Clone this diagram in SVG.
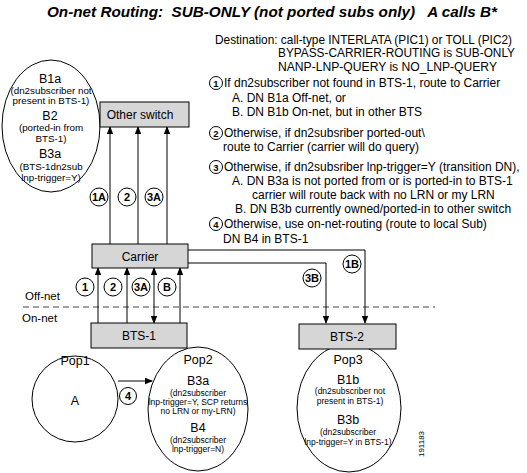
<svg xmlns="http://www.w3.org/2000/svg" width="527" height="473" viewBox="0 0 527 473">
<defs>
<marker id="ah" markerWidth="8" markerHeight="8" refX="7" refY="4" orient="auto" markerUnits="userSpaceOnUse">
<path d="M0,0.8 L8,4 L0,7.2 Z" fill="#000"/>
</marker>
<marker id="as" markerWidth="8" markerHeight="8" refX="1" refY="4" orient="auto" markerUnits="userSpaceOnUse">
<path d="M8,0.8 L0,4 L8,7.2 Z" fill="#000"/>
</marker>
</defs>
<style>
text{font-family:"Liberation Sans",Arial,sans-serif;fill:#000}
.t{font-size:12px}
.box{fill:#d6d6d6;stroke:#000;stroke-width:1}
.nd{fill:#fff;stroke:#000;stroke-width:1}
.bl{font-size:12px;text-anchor:middle}
.hd{font-size:12.5px;text-anchor:middle}
.sm{font-size:9.8px;text-anchor:middle}
.xs{font-size:8.5px;text-anchor:middle}
.ln{fill:none;stroke:#000;stroke-width:1}
.cl{fill:#fff;stroke:#000;stroke-width:1}
.clt{font-size:11px;font-weight:bold;text-anchor:middle}
.ct{font-size:9.5px;font-weight:bold;text-anchor:middle}
</style>
<rect width="527" height="473" fill="#fff"/>
<text x="47" y="17" xml:space="preserve" textLength="450" lengthAdjust="spacingAndGlyphs" style="font-size:14.5px;font-weight:bold;font-style:italic;white-space:pre">On-net Routing:  SUB-ONLY (not ported subs only)   A calls B*</text>

<g id="legend">
<text class="t" x="215" y="44" textLength="297" lengthAdjust="spacingAndGlyphs">Destination: call-type INTERLATA (PIC1) or TOLL (PIC2)</text>
<text class="t" x="278" y="57" textLength="237" lengthAdjust="spacingAndGlyphs">BYPASS-CARRIER-ROUTING is SUB-ONLY</text>
<text class="t" x="278" y="71" textLength="219" lengthAdjust="spacingAndGlyphs">NANP-LNP-QUERY is NO_LNP-QUERY</text>
<circle class="cl" cx="216" cy="83" r="6.5"/><text class="ct" x="216" y="86.5">1</text>
<text class="t" x="224" y="87">If dn2subscriber not found in BTS-1, route to Carrier</text>
<text class="t" x="232" y="102">A. DN B1a Off-net, or</text>
<text class="t" x="232" y="116">B. DN B1b On-net, but in other BTS</text>
<circle class="cl" cx="216" cy="133" r="6.5"/><text class="ct" x="216" y="136.5">2</text>
<text class="t" x="224" y="137">Otherwise, if dn2subsriber ported-out\</text>
<text class="t" x="223" y="151">route to Carrier (carrier will do query)</text>
<circle class="cl" cx="216" cy="167" r="6.5"/><text class="ct" x="216" y="170.5">3</text>
<text class="t" x="224" y="171">Otherwise, if dn2subsriber lnp-trigger=Y (transition DN),</text>
<text class="t" x="232" y="185">A. DN B3a is not ported from or is ported-in to BTS-1</text>
<text class="t" x="252" y="199">carrier will route back with no LRN or my LRN</text>
<text class="t" x="235" y="213">B. DN B3b currently owned/ported-in to other switch</text>
<circle class="cl" cx="216" cy="224" r="6.5"/><text class="ct" x="216" y="227.5">4</text>
<text class="t" x="224" y="228">Otherwise, use on-net-routing (route to local Sub)</text>
<text class="t" x="223" y="243">DN B4 in BTS-1</text>
</g>

<g id="netline">
<line x1="23" y1="307" x2="435" y2="307" stroke="#444" stroke-width="1" stroke-dasharray="6,4"/>
<text x="25" y="300" style="font-size:11.5px">Off-net</text>
<text x="22" y="322" style="font-size:11.5px">On-net</text>
</g>

<g id="connectors">
<line class="ln" x1="110" y1="244" x2="110" y2="127" marker-end="url(#ah)"/>
<line class="ln" x1="138" y1="244" x2="138" y2="127" marker-end="url(#ah)"/>
<line class="ln" x1="167" y1="244" x2="167" y2="127" marker-end="url(#ah)"/>
<line class="ln" x1="98" y1="323" x2="98" y2="268" marker-end="url(#ah)"/>
<line class="ln" x1="127" y1="323" x2="127" y2="268" marker-end="url(#ah)"/>
<line class="ln" x1="154" y1="323" x2="154" y2="268" marker-start="url(#as)" marker-end="url(#ah)"/>
<line class="ln" x1="180" y1="323" x2="180" y2="268" marker-end="url(#ah)"/>
<path class="ln" d="M188,250 H365 V323" marker-end="url(#ah)"/>
<path class="ln" d="M188,263 H326 V323" marker-end="url(#ah)"/>
<line class="ln" x1="118" y1="381" x2="152" y2="381" marker-end="url(#ah)"/>
<circle class="cl" cx="99" cy="197" r="9"/><text class="clt" x="99" y="201">1A</text>
<circle class="cl" cx="127" cy="197" r="9"/><text class="clt" x="127" y="201">2</text>
<circle class="cl" cx="154" cy="197" r="9"/><text class="clt" x="154" y="201">3A</text>
<circle class="cl" cx="85" cy="287" r="9"/><text class="clt" x="85" y="291">1</text>
<circle class="cl" cx="113" cy="287" r="9"/><text class="clt" x="113" y="291">2</text>
<circle class="cl" cx="141" cy="287" r="9"/><text class="clt" x="141" y="291">3A</text>
<circle class="cl" cx="167" cy="287" r="9"/><text class="clt" x="167" y="291">B</text>
<circle class="cl" cx="352" cy="264" r="9"/><text class="clt" x="352" y="268">1B</text>
<circle class="cl" cx="312" cy="278" r="9"/><text class="clt" x="312" y="282">3B</text>
<circle class="cl" cx="128" cy="396" r="8.5"/><text class="clt" x="128" y="400">4</text>
</g>

<g id="b-offnet">
<ellipse class="nd" cx="51" cy="126" rx="49" ry="66"/>
<text class="hd" x="50" y="82.5">B1a</text>
<text class="sm" x="51" y="94">(dn2subscriber not</text>
<text class="sm" x="51" y="104">present in BTS-1)</text>
<text class="hd" x="50" y="119.5">B2</text>
<text class="sm" x="51" y="131">(ported-in from</text>
<text class="sm" x="51" y="142">BTS-1)</text>
<text class="hd" x="50" y="157.5">B3a</text>
<text class="sm" x="51" y="170">(BTS-1dn2sub</text>
<text class="sm" x="51" y="181">lnp-trigger=Y)</text>
</g>

<g id="other-switch">
<rect class="box" x="100" y="102" width="89" height="25"/>
<text class="bl" x="140" y="119">Other switch</text>
</g>

<g id="carrier">
<rect class="box" x="92" y="244" width="96" height="24"/>
<text class="bl" x="140" y="261">Carrier</text>
</g>

<g id="pop1">
<circle class="nd" cx="75" cy="399" r="43"/>
<text class="hd" x="75" y="365">Pop1</text>
<text class="hd" x="75" y="405">A</text>
</g>

<g id="pop2">
<ellipse class="nd" cx="198" cy="409" rx="50" ry="62"/>
<text class="hd" x="198" y="364">Pop2</text>
<text class="hd" x="198" y="385">B3a</text>
<text class="xs" x="198" y="396">(dn2subscriber</text>
<text class="xs" x="198" y="405">lnp-trigger=Y, SCP returns</text>
<text class="xs" x="198" y="414">no LRN or my-LRN)</text>
<text class="hd" x="198" y="432">B4</text>
<text class="xs" x="198" y="443">(dn2subscriber</text>
<text class="xs" x="198" y="452">lnp-trigger=N)</text>
</g>

<g id="bts1">
<rect class="box" x="91" y="323" width="96" height="25"/>
<text class="bl" x="139" y="340">BTS-1</text>
</g>

<g id="pop3">
<ellipse class="nd" cx="349" cy="408" rx="52" ry="64"/>
<text class="hd" x="348" y="383.5">B1b</text>
<text class="hd" x="348" y="364">Pop3</text>
<text class="xs" x="350" y="394">(dn2subscriber not</text>
<text class="xs" x="350" y="403.5">present in BTS-1)</text>
<text class="hd" x="348" y="424">B3b</text>
<text class="xs" x="348" y="435">(dn2subscriber</text>
<text class="xs" x="348" y="445">lnp-trigger=Y in BTS-1)</text>
</g>

<g id="bts2">
<rect class="box" x="299" y="324" width="97" height="25"/>
<text class="bl" x="347" y="341">BTS-2</text>
</g>

<text x="424" y="444" transform="rotate(-90 424 444)" style="font-size:8px;text-anchor:middle">191183</text>
</svg>
